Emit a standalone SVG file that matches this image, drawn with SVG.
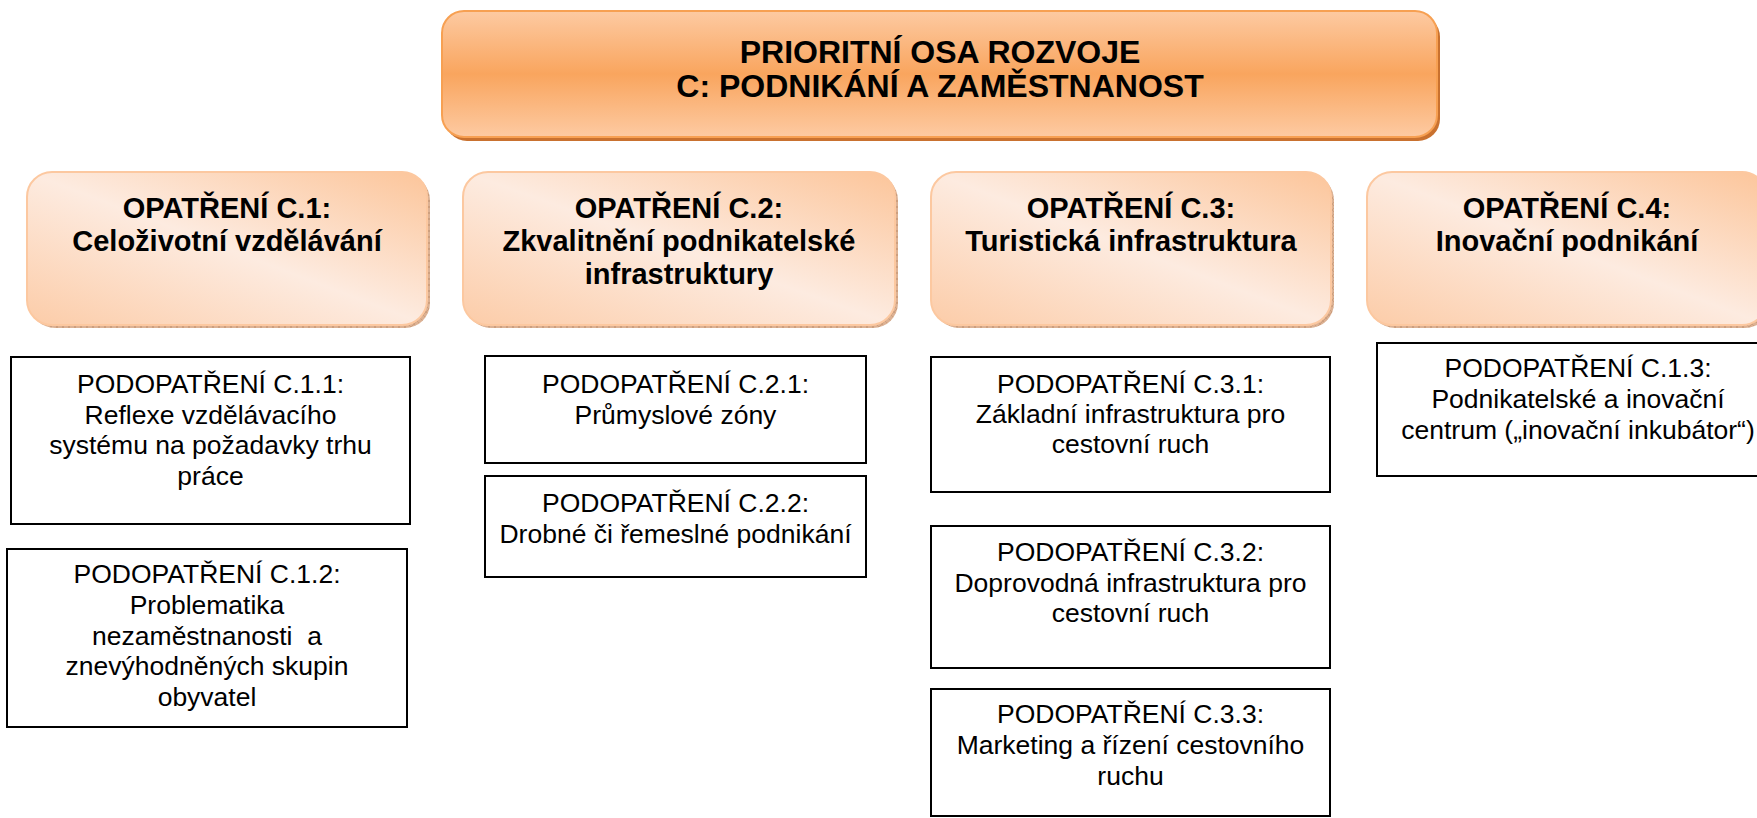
<svg xmlns="http://www.w3.org/2000/svg" width="1757" height="818" viewBox="0 0 1757 818">
<defs>
<linearGradient id="gTop" x1="0" y1="0" x2="0" y2="1">
<stop offset="0" stop-color="#fdcaa2"/>
<stop offset="0.5" stop-color="#f9a55e"/>
<stop offset="1" stop-color="#fdcaa2"/>
</linearGradient>
<linearGradient id="gMid" x1="1" y1="0" x2="0" y2="1">
<stop offset="0" stop-color="#fcc59a"/>
<stop offset="0.5" stop-color="#fdebe0"/>
<stop offset="1" stop-color="#fccca8"/>
</linearGradient>
<pattern id="hatch" width="6" height="6" patternUnits="userSpaceOnUse">
<rect width="6" height="6" fill="#dcb193"/>
<path d="M0 0L6 6M6 0L0 6" stroke="#c99a78" stroke-width="0.8"/>
</pattern>
</defs>
<style>
.top{fill:url(#gTop);stroke:#f7a052;stroke-width:2}
.topsh{fill:#c9712f}
.mid{fill:url(#gMid);stroke:#fcc8a0;stroke-width:2}
.midsh{fill:url(#hatch)}
.sub{fill:#ffffff;stroke:#000000;stroke-width:2}
text{font-family:"Liberation Sans",Arial,sans-serif;fill:#000;text-anchor:middle}
.t1{font-size:32px;font-weight:bold}
.t2{font-size:29px;font-weight:bold}
.t3{font-size:26.5px}
</style>
<g id="connectors"/>
<g id="top">
<rect class="topsh" x="445" y="15" width="995" height="126" rx="22"/>
<rect class="top" x="442" y="11" width="995" height="126" rx="22"/>
<text class="t1" x="940" y="63">PRIORITNÍ OSA ROZVOJE</text>
<text class="t1" x="940" y="97">C: PODNIKÁNÍ A ZAMĚSTNANOST</text>
</g>
<g id="c1">
<rect class="midsh" x="30" y="175" width="400" height="153" rx="25"/>
<rect class="mid" x="27" y="172" width="400" height="153" rx="25"/>
<text class="t2" x="227" y="218">OPATŘENÍ C.1:</text>
<text class="t2" x="227" y="251">Celoživotní vzdělávání</text>
</g>
<g id="c2">
<rect class="midsh" x="466" y="175" width="432" height="153" rx="25"/>
<rect class="mid" x="463" y="172" width="432" height="153" rx="25"/>
<text class="t2" x="679" y="218">OPATŘENÍ C.2:</text>
<text class="t2" x="679" y="251">Zkvalitnění podnikatelské</text>
<text class="t2" x="679" y="284">infrastruktury</text>
</g>
<g id="c3">
<rect class="midsh" x="934" y="175" width="400" height="153" rx="25"/>
<rect class="mid" x="931" y="172" width="400" height="153" rx="25"/>
<text class="t2" x="1131" y="218">OPATŘENÍ C.3:</text>
<text class="t2" x="1131" y="251">Turistická infrastruktura</text>
</g>
<g id="c4">
<rect class="midsh" x="1370" y="175" width="400" height="153" rx="25"/>
<rect class="mid" x="1367" y="172" width="400" height="153" rx="25"/>
<text class="t2" x="1567" y="218">OPATŘENÍ C.4:</text>
<text class="t2" x="1567" y="251">Inovační podnikání</text>
</g>
<g id="c11">
<rect class="sub" x="11" y="357" width="399" height="167"/>
<text class="t3" x="210.5" y="393">PODOPATŘENÍ C.1.1:</text>
<text class="t3" x="210.5" y="424">Reflexe vzdělávacího</text>
<text class="t3" x="210.5" y="454">systému na požadavky trhu</text>
<text class="t3" x="210.5" y="485">práce</text>
</g>
<g id="c12">
<rect class="sub" x="7" y="549" width="400" height="178"/>
<text class="t3" x="207" y="583">PODOPATŘENÍ C.1.2:</text>
<text class="t3" x="207" y="614">Problematika</text>
<text class="t3" x="207" y="645" style="white-space:pre">nezaměstnanosti  a</text>
<text class="t3" x="207" y="675">znevýhodněných skupin</text>
<text class="t3" x="207" y="706">obyvatel</text>
</g>
<g id="c21">
<rect class="sub" x="485" y="356" width="381" height="107"/>
<text class="t3" x="675.5" y="393">PODOPATŘENÍ C.2.1:</text>
<text class="t3" x="675.5" y="424">Průmyslové zóny</text>
</g>
<g id="c22">
<rect class="sub" x="485" y="476" width="381" height="101"/>
<text class="t3" x="675.5" y="512">PODOPATŘENÍ C.2.2:</text>
<text class="t3" x="675.5" y="543">Drobné či řemeslné podnikání</text>
</g>
<g id="c31">
<rect class="sub" x="931" y="357" width="399" height="135"/>
<text class="t3" x="1130.5" y="393">PODOPATŘENÍ C.3.1:</text>
<text class="t3" x="1130.5" y="423">Základní infrastruktura pro</text>
<text class="t3" x="1130.5" y="453">cestovní ruch</text>
</g>
<g id="c32">
<rect class="sub" x="931" y="526" width="399" height="142"/>
<text class="t3" x="1130.5" y="561">PODOPATŘENÍ C.3.2:</text>
<text class="t3" x="1130.5" y="592">Doprovodná infrastruktura pro</text>
<text class="t3" x="1130.5" y="622">cestovní ruch</text>
</g>
<g id="c33">
<rect class="sub" x="931" y="689" width="399" height="127"/>
<text class="t3" x="1130.5" y="723">PODOPATŘENÍ C.3.3:</text>
<text class="t3" x="1130.5" y="754">Marketing a řízení cestovního</text>
<text class="t3" x="1130.5" y="785">ruchu</text>
</g>
<g id="c13">
<rect class="sub" x="1377" y="343" width="402" height="133"/>
<text class="t3" x="1578" y="377">PODOPATŘENÍ C.1.3:</text>
<text class="t3" x="1578" y="408">Podnikatelské a inovační</text>
<text class="t3" x="1578" y="439">centrum („inovační inkubátor“)</text>
</g>
</svg>
